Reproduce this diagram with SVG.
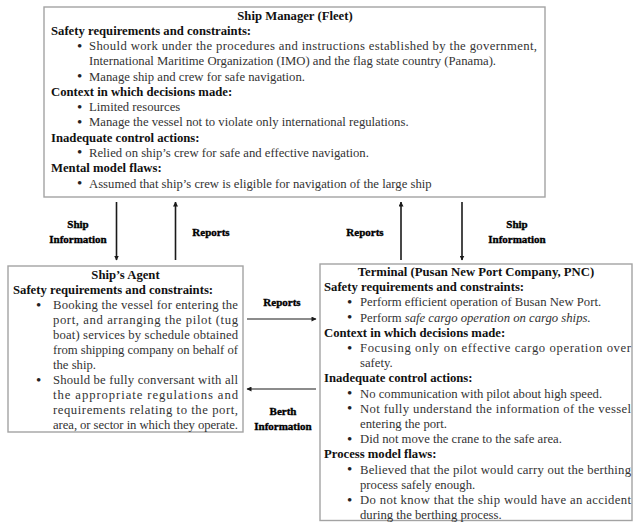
<svg xmlns="http://www.w3.org/2000/svg" width="633" height="522" viewBox="0 0 633 522">
<style>
.box{fill:#fff;stroke:#a3a3a3;stroke-width:1.4}
text{font-family:"Liberation Serif","Times New Roman",serif;font-size:12.7px}
.t{fill:#333}
.b{fill:#222;font-size:15px}
.h{fill:#111;font-weight:bold}
.c{text-anchor:middle}
.lbl{font-size:11px;font-weight:bold;fill:#000;stroke:#000;stroke-width:0.35;text-anchor:middle}
.ln{stroke:#1a1a1a;stroke-width:1.6;fill:none}
.lnh{stroke:#1a1a1a;stroke-width:1.1;fill:none}
</style>
<defs>
<marker id="ah" viewBox="0 0 10 10" refX="9" refY="5" markerWidth="5" markerHeight="5" markerUnits="userSpaceOnUse" orient="auto"><path d="M0,0 L10,5 L0,10 z" fill="#1a1a1a"/></marker>
<marker id="ahh" viewBox="0 0 10 10" refX="9" refY="5" markerWidth="6" markerHeight="5" markerUnits="userSpaceOnUse" orient="auto"><path d="M0,0 L10,5 L0,10 z" fill="#1a1a1a"/></marker>
</defs>

<g id="ship-manager">
<rect class="box" x="44" y="7" width="501" height="190"/>
<text class="h c" x="295" y="19.5">Ship Manager (Fleet)</text>
<text class="h" x="51" y="34.8">Safety requirements and constraints:</text>
<text class="b" x="77" y="50.5">•</text>
<text class="t" x="89" y="50" textLength="448" lengthAdjust="spacing">Should work under the procedures and instructions established by the government,</text>
<text class="t" x="89" y="65.3">International Maritime Organization (IMO) and the flag state country (Panama).</text>
<text class="b" x="77" y="81.1">•</text>
<text class="t" x="89" y="80.6">Manage ship and crew for safe navigation.</text>
<text class="h" x="51" y="95.8">Context in which decisions made:</text>
<text class="b" x="77" y="111.6">•</text>
<text class="t" x="89" y="111.1">Limited resources</text>
<text class="b" x="77" y="126.9">•</text>
<text class="t" x="89" y="126.4">Manage the vessel not to violate only international regulations.</text>
<text class="h" x="51" y="141.7">Inadequate control actions:</text>
<text class="b" x="77" y="157.4">•</text>
<text class="t" x="89" y="156.9">Relied on ship’s crew for safe and effective navigation.</text>
<text class="h" x="51" y="172.2">Mental model flaws:</text>
<text class="b" x="77" y="188">•</text>
<text class="t" x="89" y="187.5">Assumed that ship’s crew is eligible for navigation of the large ship</text>
</g>

<g id="ships-agent">
<rect class="box" x="8" y="266" width="235" height="166"/>
<text class="h c" x="125.5" y="279">Ship’s Agent</text>
<text class="h" x="13" y="294">Safety requirements and constraints:</text>
<text class="b" x="36" y="309.5">•</text>
<text class="t" x="53" y="309" textLength="185" lengthAdjust="spacing">Booking the vessel for entering the</text>
<text class="t" x="53" y="324" textLength="185" lengthAdjust="spacing">port, and arranging the pilot (tug</text>
<text class="t" x="53" y="339" textLength="185" lengthAdjust="spacing">boat) services by schedule obtained</text>
<text class="t" x="53" y="354" textLength="185" lengthAdjust="spacing">from shipping company on behalf of</text>
<text class="t" x="53" y="369">the ship.</text>
<text class="b" x="36" y="384.5">•</text>
<text class="t" x="53" y="384" textLength="185" lengthAdjust="spacing">Should be fully conversant with all</text>
<text class="t" x="53" y="399" textLength="185" lengthAdjust="spacing">the appropriate regulations and</text>
<text class="t" x="53" y="414" textLength="185" lengthAdjust="spacing">requirements relating to the port,</text>
<text class="t" x="53" y="428.5" textLength="185" lengthAdjust="spacing">area, or sector in which they operate.</text>
</g>

<g id="terminal">
<rect class="box" x="320" y="264" width="312" height="256.5"/>
<text class="h c" x="476" y="276">Terminal (Pusan New Port Company, PNC)</text>
<text class="h" x="324" y="291.2">Safety requirements and constraints:</text>
<text class="b" x="347" y="306.9">•</text>
<text class="t" x="360" y="306.4">Perform efficient operation of Busan New Port.</text>
<text class="b" x="347" y="322.1">•</text>
<text class="t" x="360" y="321.6">Perform <tspan font-style="italic">safe cargo operation on cargo ships.</tspan></text>
<text class="h" x="324" y="336.8">Context in which decisions made:</text>
<text class="b" x="347" y="352.5">•</text>
<text class="t" x="360" y="352" textLength="271" lengthAdjust="spacing">Focusing only on effective cargo operation over</text>
<text class="t" x="360" y="367.2">safety.</text>
<text class="h" x="324" y="382.4">Inadequate control actions:</text>
<text class="b" x="347" y="398.1">•</text>
<text class="t" x="360" y="397.6">No communication with pilot about high speed.</text>
<text class="b" x="347" y="413.3">•</text>
<text class="t" x="360" y="412.8" textLength="271" lengthAdjust="spacing">Not fully understand the information of the vessel</text>
<text class="t" x="360" y="428">entering the port.</text>
<text class="b" x="347" y="443.7">•</text>
<text class="t" x="360" y="443.2">Did not move the crane to the safe area.</text>
<text class="h" x="324" y="458.4">Process model flaws:</text>
<text class="b" x="347" y="474.1">•</text>
<text class="t" x="360" y="473.6" textLength="271" lengthAdjust="spacing">Believed that the pilot would carry out the berthing</text>
<text class="t" x="360" y="488.8">process safely enough.</text>
<text class="b" x="347" y="504.5">•</text>
<text class="t" x="360" y="504" textLength="271" lengthAdjust="spacing">Do not know that the ship would have an accident</text>
<text class="t" x="360" y="518.5">during the berthing process.</text>
</g>

<g id="connectors">
<line class="ln" x1="116.5" y1="202" x2="116.5" y2="260" marker-end="url(#ah)"/>
<line class="ln" x1="175.5" y1="260" x2="175.5" y2="202" marker-end="url(#ah)"/>
<line class="ln" x1="401" y1="260" x2="401" y2="202" marker-end="url(#ah)"/>
<line class="ln" x1="462" y1="202" x2="462" y2="260" marker-end="url(#ah)"/>
<line class="lnh" x1="247" y1="319" x2="316" y2="319" marker-end="url(#ahh)"/>
<line class="lnh" x1="316" y1="389" x2="247" y2="389" marker-end="url(#ahh)"/>
<text class="lbl" x="78" y="228">Ship</text>
<text class="lbl" x="78" y="243">Information</text>
<text class="lbl" x="211" y="236">Reports</text>
<text class="lbl" x="365" y="236">Reports</text>
<text class="lbl" x="517" y="228">Ship</text>
<text class="lbl" x="517" y="243">Information</text>
<text class="lbl" x="282" y="306">Reports</text>
<text class="lbl" x="283" y="415">Berth</text>
<text class="lbl" x="283" y="430">Information</text>
</g>
</svg>
